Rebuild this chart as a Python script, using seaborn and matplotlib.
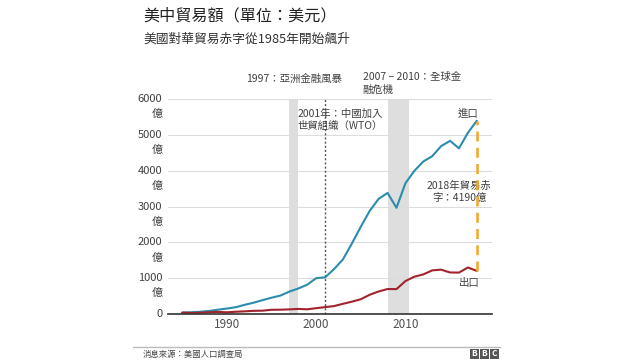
import numpy as np
import pandas as pd
import matplotlib
matplotlib.use("Agg")
import matplotlib.pyplot as plt
from matplotlib.patches import Rectangle
import seaborn as sns

# US-China trade, unit: 億 (100 million USD)
years = list(range(1985, 2019))
imports = [39, 48, 63, 85, 120, 152, 190, 257, 315, 388, 455, 515, 626, 712, 818,
           1000, 1023, 1252, 1524, 1967, 2435, 2878, 3214, 3378, 2964, 3649, 3994,
           4256, 4404, 4685, 4832, 4624, 5055, 5395]
exports = [39, 31, 35, 50, 58, 48, 63, 74, 88, 93, 118, 120, 129, 142, 131,
           162, 192, 221, 284, 344, 412, 537, 629, 697, 695, 919, 1041, 1105,
           1217, 1237, 1159, 1156, 1298, 1203]
yticks = [0, 1000, 2000, 3000, 4000, 5000, 6000]
xticks = [1990, 2000, 2010]
crisis_bands = [(1997, 1998), (2008, 2010.4)]
wto_year = 2001

df = pd.DataFrame({"year": years * 2,
                   "value": imports + exports,
                   "kind": ["進口"] * len(years) + ["出口"] * len(years)})

sns.set_style("white")
plt.rcParams['font.family'] = ['Noto Sans CJK TC', 'DejaVu Sans']

txt = "#404040"
fig = plt.figure(figsize=(6.4, 3.6), dpi=100)
ax = fig.add_axes([168/640, 1 - 314/360, (492-168)/640, (314-99)/360])

for a, b in crisis_bands:
    ax.axvspan(a, b, color="#dedede", lw=0, zorder=0)
ax.axvline(wto_year, color="#555555", ls=(0, (1.5, 1.5)), lw=1, zorder=1)

sns.lineplot(data=df, x="year", y="value", hue="kind",
             palette={"進口": "#2c8cad", "出口": "#a3232c"},
             lw=1.5, legend=False, ax=ax, zorder=3)

# deficit marker for 2018
ax.vlines(years[-1], exports[-1], imports[-1], colors="#f5a623",
          linestyles=(0, (4, 2.5)), lw=1.8, zorder=4)

ax.set_xlim(1983.4, 2019.7)
ax.set_ylim(0, 6000)
ax.set_xlabel("")
ax.set_ylabel("")
ax.set_xticks(xticks)
ax.set_xticklabels([str(x) for x in xticks], fontsize=8.5, color="#505050")
ax.set_yticks(yticks)
ax.set_yticklabels([])
for v in yticks:
    lab = "0" if v == 0 else f"{v}\n億"
    ax.annotate(lab, xy=(0, v), xycoords=("axes fraction", "data"),
                xytext=(-4, 3.5), textcoords="offset points",
                ha="right", va="top", fontsize=8, color=txt,
                linespacing=1.6, annotation_clip=False)
ax.tick_params(length=0, pad=3)
ax.grid(axis="y", color="#dddddd", lw=0.8)
ax.grid(axis="x", visible=False)
sns.despine(ax=ax, left=True, top=True, right=True)
ax.spines["bottom"].set_color("#333333")
ax.spines["bottom"].set_linewidth(1.2)
ax.spines["bottom"].set_zorder(5)

# annotations
xt = ax.get_xaxis_transform()
ax.text(1997.5, 1.095, "1997：亞洲金融風暴", transform=xt,
        ha="center", va="center", fontsize=7.5, color=txt)
ax.text(2005.2, 1.125, "2007 – 2010：全球金\n融危機", transform=xt,
        ha="left", va="top", fontsize=7.5, color=txt, linespacing=1.3)
ax.text(1997.95, 0.955, "2001年：中國加入\n世貿組織（WTO）", transform=xt,
        ha="left", va="top", fontsize=7.5, color=txt, linespacing=1.3)
ax.text(2018.2, 0.933, "進口", transform=xt,
        ha="right", va="center", fontsize=7.5, color=txt)
ax.text(2016.0, 0.567, "2018年貿易赤\n字：4190億", transform=xt,
        ha="center", va="center", fontsize=7.5, color=txt, linespacing=1.3,
        bbox=dict(fc="white", ec="none", pad=1))
ax.text(2018.3, 0.145, "出口", transform=xt,
        ha="right", va="center", fontsize=7.5, color=txt)

# titles
fig.text(143/640, 1 - 16/360, "美中貿易額（單位：美元）", fontsize=11.6,
         color="#222222", va="center", ha="left")
fig.text(143/640, 1 - 39/360, "美國對華貿易赤字從1985年開始飆升", fontsize=9.2,
         color="#333333", va="center", ha="left")

# footer
fig.add_artist(plt.Line2D([133/640, 500/640], [1 - 347/360] * 2,
                          color="#bbbbbb", lw=1))
fig.text(143/640, 1 - 354/360, "消息來源：美國人口調查局", fontsize=6,
         color="#444444", va="center", ha="left")
for i, ch in enumerate("BBC"):
    x0 = (470 + i * 10) / 640
    fig.add_artist(Rectangle((x0, 1 - 359/360), 9/640, 10/360,
                             transform=fig.transFigure, fc="#555555", ec="none"))
    fig.text(x0 + 4.5/640, 1 - 354/360, ch, fontsize=6, color="white",
             ha="center", va="center", fontweight="bold")

fig.savefig("out.png", dpi=100)
